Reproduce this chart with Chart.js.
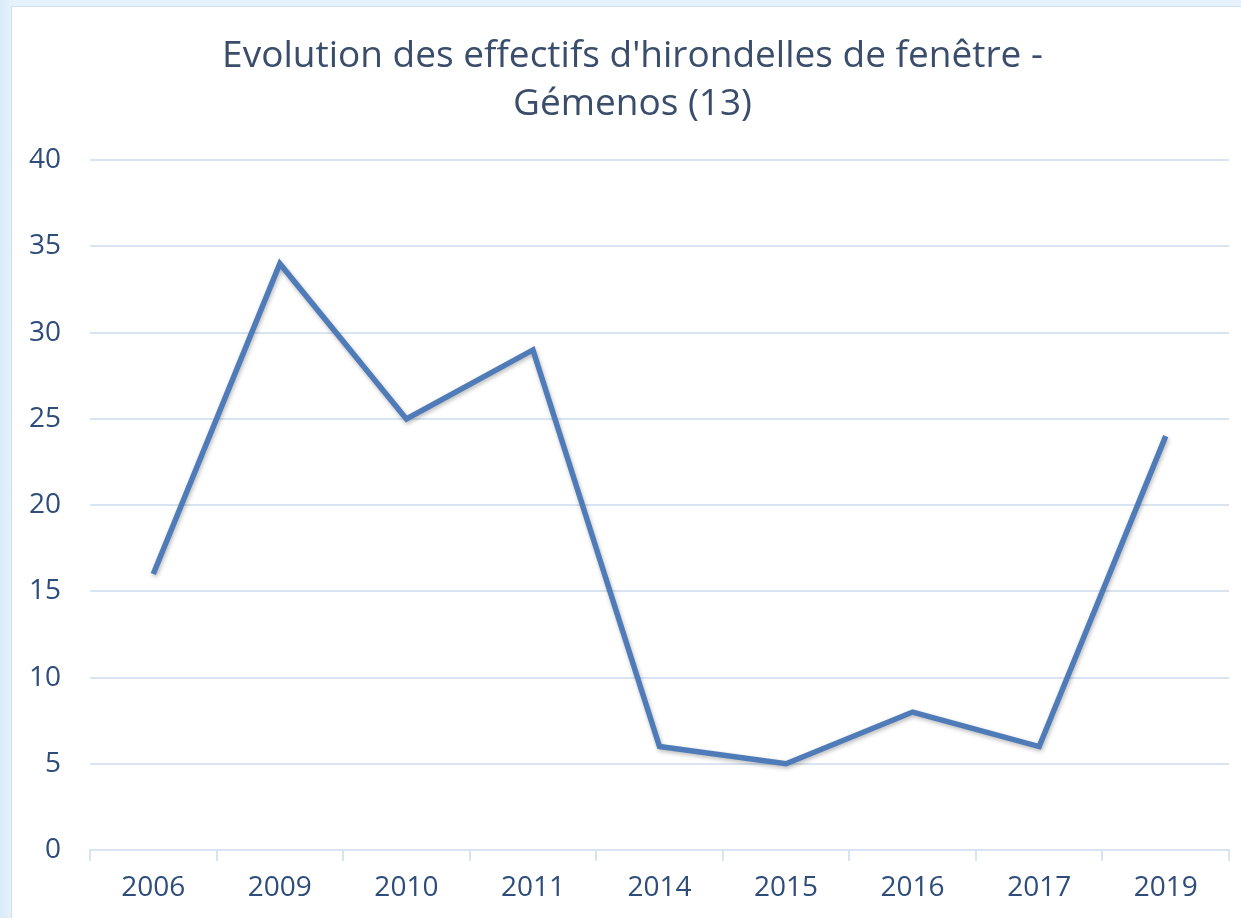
<!DOCTYPE html>
<html>
<head>
<meta charset="utf-8">
<script src="https://cdn.jsdelivr.net/npm/chart.js@4.4.1/dist/chart.umd.min.js"></script>
<style>
  html, body { margin: 0; padding: 0; }
  body {
    width: 1241px; height: 918px; overflow: hidden;
    background: linear-gradient(90deg, #d8ebf8 0px, #e6f2fb 12px, #e6f2fb 100%);
    position: relative;
  }
  #panel {
    position: absolute; left: 11px; top: 6px; width: 1229px; height: 911px;
    background: #ffffff; border: 1px solid #cfe0f1; border-right: none; border-bottom: none;
  }
  canvas { display: block; }
</style>
</head>
<body>
<div id="panel"><canvas id="c" width="1229" height="911"></canvas></div>
<script>
// Window swallow counts per survey year
const years = ['2006', '2009', '2010', '2011', '2014', '2015', '2016', '2017', '2019'];
const counts = [16, 34, 25, 29, 6, 5, 8, 6, 24];
const titleLines = ["Evolution des effectifs d'hirondelles de fenêtre -", 'Gémenos (13)'];

const textColor = '#2e4d7a';
const gridColor = '#d9e4f2';

// soft drop shadow under the line
const lineShadow = {
  id: 'lineShadow',
  beforeDatasetsDraw(chart) {
    const ctx = chart.ctx;
    ctx.save();
    ctx.shadowColor = 'rgba(0,0,0,0.28)';
    ctx.shadowBlur = 4;
    ctx.shadowOffsetX = 1;
    ctx.shadowOffsetY = 2;
  },
  afterDatasetsDraw(chart) {
    chart.ctx.restore();
  }
};

// let the value labels use the space left of the padded area
const widenYLabels = {
  id: 'widenYLabels',
  afterLayout(chart) {
    chart.scales.y.left = 0;
  }
};

new Chart(document.getElementById('c'), {
  type: 'line',
  data: {
    labels: years,
    datasets: [{
      data: counts,
      borderColor: '#4f7cb8',
      borderWidth: 5.5,
      pointRadius: 0,
      tension: 0,
      fill: false
    }]
  },
  plugins: [lineShadow, widenYLabels],
  options: {
    responsive: false,
    animation: false,
    layout: { padding: { top: 25, right: 12, bottom: 0, left: 24 } },
    plugins: {
      legend: { display: false },
      tooltip: { enabled: false },
      title: {
        display: true,
        text: titleLines,
        color: '#3a4d6b',
        font: { family: 'Open Sans', size: 37, weight: 'normal', lineHeight: 1.3 },
        padding: { top: 0, bottom: 32 }
      }
    },
    scales: {
      x: {
        offset: true,
        grid: { offset: true, drawOnChartArea: false, drawTicks: true, tickLength: 11, color: gridColor, lineWidth: 2 },
        border: { display: true, color: gridColor, width: 2 },
        ticks: { color: textColor, font: { family: 'Open Sans', size: 28 }, padding: 10, maxRotation: 0 },
        afterFit(scale) { scale.height = 68; }
      },
      y: {
        min: 0, max: 40,
        grid: { drawTicks: false, color: gridColor, lineWidth: 2 },
        border: { display: false },
        ticks: { stepSize: 5, color: textColor, font: { family: 'Open Sans', size: 28 }, padding: 29 },
        afterFit(scale) { scale.width = 54; }
      }
    }
  }
});
</script>
</body>
</html>
